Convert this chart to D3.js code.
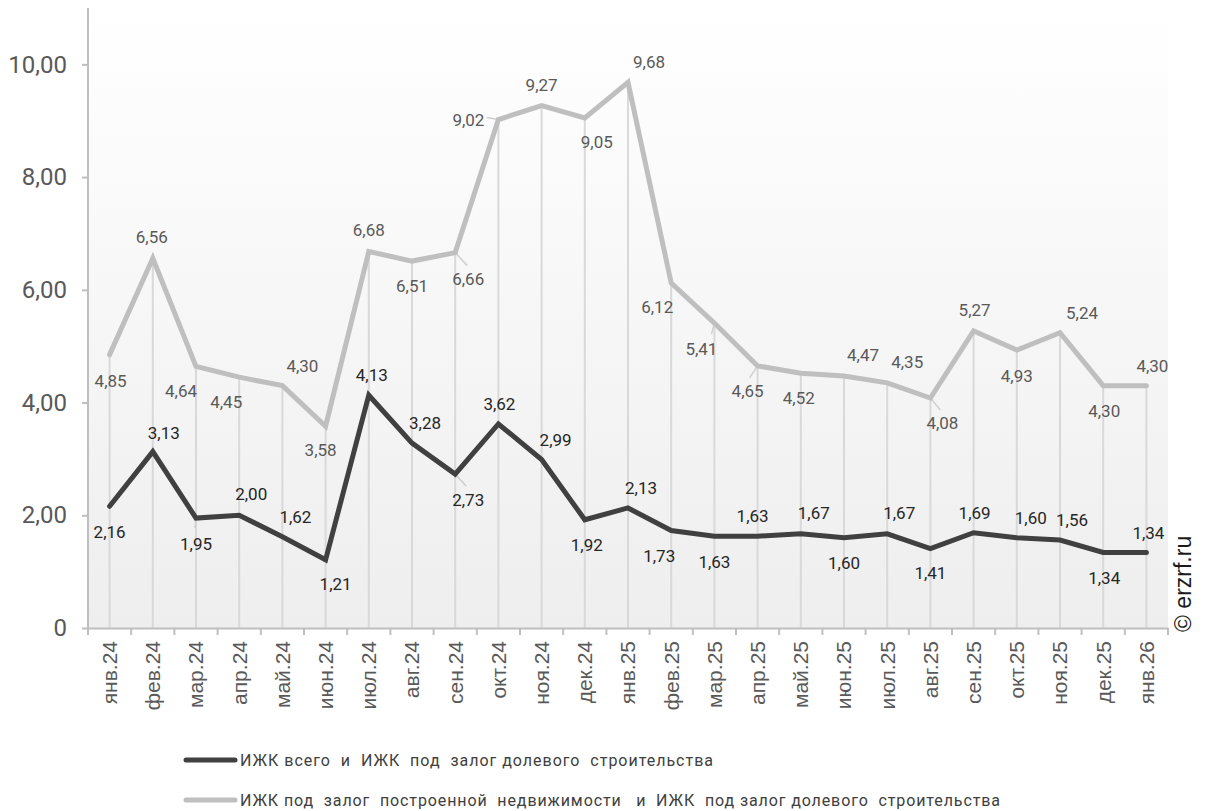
<!DOCTYPE html>
<html><head><meta charset="utf-8">
<script src="https://cdn.jsdelivr.net/npm/d3@7"></script>
<style>
html,body{margin:0;padding:0;background:#fff;}
svg{display:block;font-family:Roboto,"Noto Sans",sans-serif;}
</style></head>
<body>
<svg id="chart" width="1205" height="811"></svg>
<script>
const categories = ["янв.24","фев.24","мар.24","апр.24","май.24","июн.24","июл.24","авг.24","сен.24","окт.24","ноя.24","дек.24",
  "янв.25","фев.25","мар.25","апр.25","май.25","июн.25","июл.25","авг.25","сен.25","окт.25","ноя.25","дек.25","янв.26"];
const seriesTotal = [2.16,3.13,1.95,2.00,1.62,1.21,4.13,3.28,2.73,3.62,2.99,1.92,2.13,1.73,1.63,1.63,1.67,1.60,1.67,1.41,1.69,1.60,1.56,1.34,1.34];
const seriesBuilt = [4.85,6.56,4.64,4.45,4.30,3.58,6.68,6.51,6.66,9.02,9.27,9.05,9.68,6.12,5.41,4.65,4.52,4.47,4.35,4.08,5.27,4.93,5.24,4.30,4.30];
const yTicks = [0,2,4,6,8,10];
const seriesNames = ["ИЖК всего  и  ИЖК  под  залог долевого  строительства",
  "ИЖК под  залог  построенной  недвижимости   и  ИЖК  под залог долевого  строительства"];

// label offsets (layout only)
const offTotal = [[0,26],[11,-19],[0,26],[12,-21],[13,-20],[10,24],[3,-20],[13,-20],[13,26],[1,-20],[14,-19],[2,25],
  [13,-20],[-12,26],[0,26],[-5,-20],[13,-21],[0,25],[12,-21],[0,25],[1,-20],[14,-20],[12,-20],[1,26],[2,-19]];
const offBuilt = [[1,26],[-1,-21],[-15,25],[-13,25],[20,-20],[-5,24],[0,-21],[0,25],[13,26],[-30,0],[0,-20],[12,24],
  [21,-20],[-14,24],[-13,26],[-10,25],[-2,25],[19,-21],[20,-21],[12,25],[1,-21],[0,26],[22,-20],[1,25],[6,-20]];
// leader lines [series, index, endDx, endDy] (layout only)
const leaders = [["b",8,12,13],["b",9,-12,-2],["b",14,-3,11],["b",15,-8,12],["b",19,10,12],["t",8,11,12],["t",2,-1,10]];

const svg = d3.select("#chart");
const m = {left:88, right:1168, top:8, bottom:628};
const x = d3.scaleBand().domain(categories).range([m.left, m.right]).padding(0);
const y = d3.scaleLinear().domain([0,11]).range([m.bottom, m.top]);
const cx = d => x(d) + x.bandwidth()/2;

const defs = svg.append("defs");
const grad = defs.append("linearGradient").attr("id","bg").attr("x1",0).attr("y1",0).attr("x2",0).attr("y2",1);
grad.append("stop").attr("offset","0%").attr("stop-color","#ffffff");
grad.append("stop").attr("offset","100%").attr("stop-color","#eeeeee");

svg.append("rect").attr("x",m.left).attr("y",m.top).attr("width",m.right-m.left).attr("height",m.bottom-m.top).attr("fill","url(#bg)");

// drop lines
svg.append("g").selectAll("line").data(categories).join("line")
  .attr("x1",d=>cx(d)).attr("x2",d=>cx(d))
  .attr("y1",(d,i)=>y(Math.max(seriesTotal[i],seriesBuilt[i])))
  .attr("y2",m.bottom).attr("stroke","#d9d9d9").attr("stroke-width",2);

// y axis
const yAxis = svg.append("g").attr("transform",`translate(${m.left},0)`)
  .call(d3.axisLeft(y).tickValues(yTicks).tickSize(6).tickSizeOuter(0).tickPadding(15)
    .tickFormat(d => d===0 ? "0" : d3.format(".2f")(d).replace(".",",")));
yAxis.select(".domain").attr("stroke","#bfbfbf").attr("stroke-width",2).attr("d",`M0,${m.top}V${m.bottom}`);
yAxis.selectAll(".tick line").attr("stroke","#bfbfbf").attr("stroke-width",2);
yAxis.selectAll("text").attr("font-size",24).attr("fill","#595959").attr("font-family","Roboto");

// x axis
const xAxis = svg.append("g").attr("transform",`translate(0,${m.bottom})`)
  .call(d3.axisBottom(x).tickSize(0).tickSizeOuter(0));
xAxis.select(".domain").attr("stroke","#bfbfbf").attr("stroke-width",2);
xAxis.selectAll("text").attr("font-size",21).attr("fill","#595959").attr("font-family","'Liberation Sans',Arial,sans-serif")
  .attr("transform","rotate(-90)").attr("text-anchor","end").attr("x",-13).attr("y",0).attr("dy","0.35em");
// boundary ticks
const bounds = categories.map(c=>x(c)).concat([m.right]);
svg.append("g").selectAll("line").data(bounds).join("line")
  .attr("x1",d=>d).attr("x2",d=>d).attr("y1",m.bottom).attr("y2",m.bottom+7)
  .attr("stroke","#bfbfbf").attr("stroke-width",2);

// leader lines
svg.append("g").selectAll("line").data(leaders).join("line")
  .attr("x1",d=>cx(categories[d[1]])).attr("y1",d=>y((d[0]==="b"?seriesBuilt:seriesTotal)[d[1]]))
  .attr("x2",d=>cx(categories[d[1]])+d[2]).attr("y2",d=>y((d[0]==="b"?seriesBuilt:seriesTotal)[d[1]])+d[3])
  .attr("stroke","#d0d0d0").attr("stroke-width",1.5);

const line = d3.line().x((d,i)=>cx(categories[i])).y(d=>y(d));
svg.append("path").datum(seriesBuilt).attr("d",line).attr("fill","none")
  .attr("stroke","#bfbfbf").attr("stroke-width",5).attr("stroke-linejoin","miter").attr("stroke-linecap","round");
svg.append("path").datum(seriesTotal).attr("d",line).attr("fill","none")
  .attr("stroke","#404040").attr("stroke-width",5).attr("stroke-linejoin","miter").attr("stroke-linecap","round");

const fmt = v => d3.format(".2f")(v).replace(".",",");
function labels(data, offs, color){
  svg.append("g").selectAll("text").data(data).join("text")
    .attr("x",(d,i)=>cx(categories[i])+offs[i][0])
    .attr("y",(d,i)=>y(d)+offs[i][1])
    .attr("dy","0.35em").attr("text-anchor","middle")
    .attr("font-size",17).attr("fill",color).attr("font-family","Roboto")
    .text(fmt);
}
labels(seriesBuilt, offBuilt, "#595959");
labels(seriesTotal, offTotal, "#262626");

// legend
const leg = svg.append("g");
const legColors = ["#404040","#bfbfbf"];
const legWidths = [473, 760];
seriesNames.forEach((n,i)=>{
  const ly = 760 + i*40;
  leg.append("line").attr("x1",186).attr("x2",235).attr("y1",ly).attr("y2",ly)
    .attr("stroke",legColors[i]).attr("stroke-width",5).attr("stroke-linecap","round");
  leg.append("text").attr("x",240).attr("y",ly).attr("dy","0.35em")
    .attr("font-size",16).attr("fill","#404040").attr("font-family","Roboto")
    .attr("textLength",legWidths[i]).attr("lengthAdjust","spacing")
    .style("white-space","pre").attr("xml:space","preserve").text(n);
});

// watermark
svg.append("text").attr("transform","translate(1191,632) rotate(-90)")
  .attr("font-size",23).attr("fill","#1a1a1a").attr("font-family","'Liberation Sans',Arial,sans-serif")
  .text("© erzrf.ru");
</script>
</body></html>
